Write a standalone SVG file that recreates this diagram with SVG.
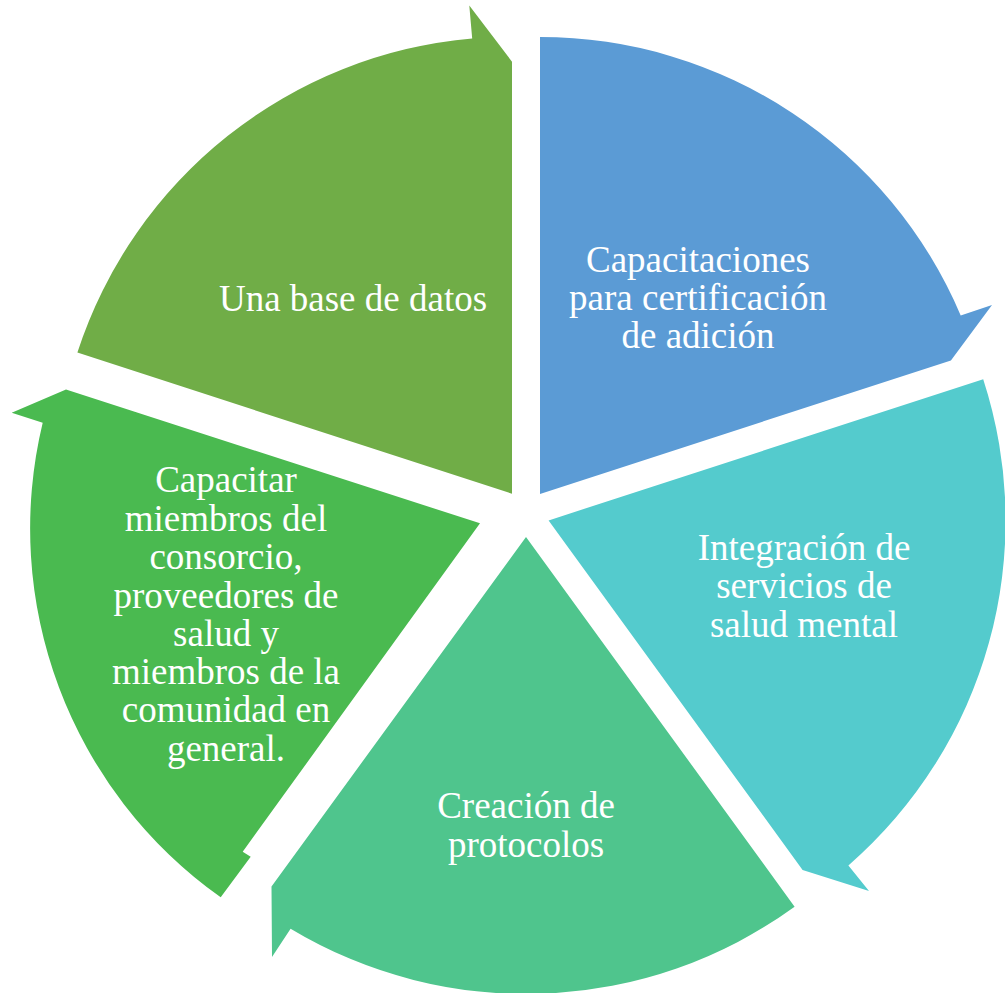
<svg xmlns="http://www.w3.org/2000/svg" width="1005" height="993" viewBox="0 0 1005 993">
<style>
.t{font-family:"Liberation Serif","Times New Roman",serif;font-size:37px;fill:#ffffff;text-anchor:middle}
</style>
<rect width="1005" height="993" fill="#ffffff"/>
<g id="node-olive">
<path d="M512,493.7 L77.4,352.5 A457,457 0 0 1 472.2,38.4 L469.3,5.6 L512,61.7 Z" fill="#70AD47"/>
<text class="t" x="353" y="311">Una base de datos</text>
</g>
<g id="node-blue">
<path d="M540,494 L540,37 A457,457 0 0 1 960.7,315.4 L992,305 L950.9,360.5 Z" fill="#5B9BD5"/>
<text class="t" x="698" y="272">Capacitaciones</text>
<text class="t" x="698" y="310">para certificación</text>
<text class="t" x="698" y="348">de adición</text>
</g>
<g id="node-teal">
<path d="M548.6,520.4 L983.2,379.2 A457,457 0 0 1 848.4,865.4 L869,891 L802.6,870 Z" fill="#54CBCD"/>
<text class="t" x="804" y="560">Integración de</text>
<text class="t" x="804" y="598">servicios de</text>
<text class="t" x="804" y="637">salud mental</text>
</g>
<g id="node-creacion">
<path d="M526,537 L794.6,906.7 A457,457 0 0 1 290.6,928.7 L272,957 L271.5,886.5 Z" fill="#4FC58D"/>
<text class="t" x="526" y="818">Creación de</text>
<text class="t" x="526" y="857">protocolos</text>
</g>
<g id="node-green">
<path d="M480,523.3 L242.7,851.7 L250.7,856.7 L220.7,897.3 A452,452 0 0 1 42.7,422.7 L11.7,412.7 L66,389.5 Z" fill="#4ABA50"/>
<text class="t" x="226" y="492">Capacitar</text>
<text class="t" x="226" y="531">miembros del</text>
<text class="t" x="226" y="569">consorcio,</text>
<text class="t" x="226" y="608">proveedores de</text>
<text class="t" x="226" y="646">salud y</text>
<text class="t" x="226" y="684">miembros de la</text>
<text class="t" x="226" y="722">comunidad en</text>
<text class="t" x="226" y="761">general.</text>
</g>
<g id="connectors"></g>
</svg>
